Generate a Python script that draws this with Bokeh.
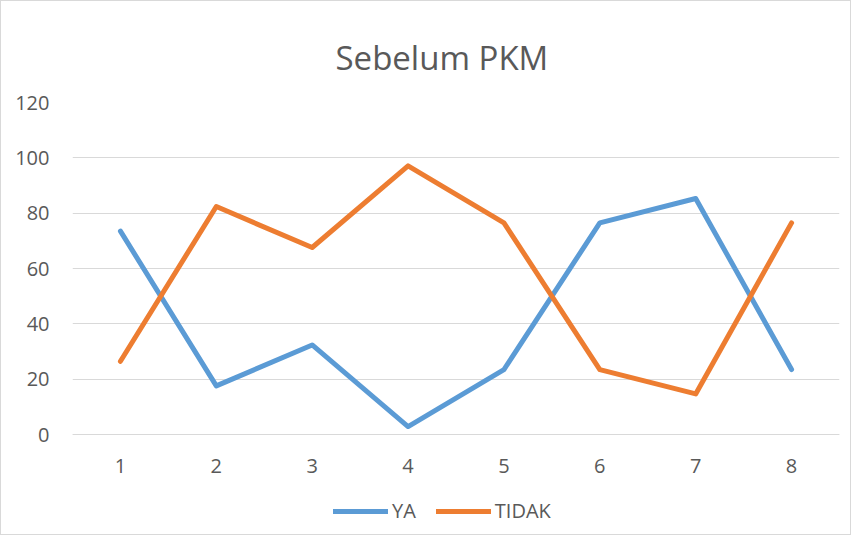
from bokeh.plotting import figure
from bokeh.models import Range1d, FixedTicker, Legend, LegendItem
from bokeh.embed import file_html
from bokeh.resources import INLINE

categories = [1, 2, 3, 4, 5, 6, 7, 8]
ya = [73.5, 17.6, 32.4, 2.9, 23.5, 76.5, 85.3, 23.5]
tidak = [26.5, 82.4, 67.6, 97.1, 76.5, 23.5, 14.7, 76.5]
y_ticks = [0, 20, 40, 60, 80, 100, 120]

FONT = "Open Sans"
TXT = "#595959"
GRID = "#d9d9d9"
Y_BOTTOM = -36.1  # extra room below 0 for the category labels and legend

p = figure(width=851, height=535, output_backend="svg", toolbar_location=None,
           x_range=Range1d(0.5, 8.5), y_range=Range1d(Y_BOTTOM, 120),
           min_border_left=71, min_border_right=13, min_border_top=101, min_border_bottom=2)
p.styles = {"border": "1px solid #d9d9d9"}

p.title.text = "Sebelum PKM"
p.title.align = "left"
p.title.offset = 263
p.title.standoff = 45
p.title.text_font = FONT
p.title.text_font_size = "33px"
p.title.text_font_style = "normal"
p.title.text_color = TXT

p.outline_line_color = None
p.background_fill_color = "white"
p.border_fill_color = "white"

p.xgrid.grid_line_color = None
p.ygrid.grid_line_color = GRID
p.ygrid.grid_line_width = 1
p.ygrid.ticker = FixedTicker(ticks=y_ticks)

p.xaxis.ticker = FixedTicker(ticks=categories)
p.xaxis.fixed_location = 0
p.yaxis.ticker = FixedTicker(ticks=y_ticks)
for ax in (p.xaxis[0], p.yaxis[0]):
    ax.major_tick_line_color = None
    ax.minor_tick_line_color = None
    ax.major_tick_out = 0
    ax.minor_tick_out = 0
    ax.major_label_text_font = FONT
    ax.major_label_text_font_size = "20px"
    ax.major_label_text_color = TXT
p.xaxis.axis_line_color = GRID
p.yaxis.axis_line_color = None
p.xaxis.major_label_standoff = 24
p.yaxis.major_label_standoff = 23

r1 = p.line(categories, ya, line_color="#5B9BD5", line_width=5, line_join="round", line_cap="round")
r2 = p.line(categories, tidak, line_color="#ED7D31", line_width=5, line_join="round", line_cap="round")

legend = Legend(items=[LegendItem(label="YA", renderers=[r1]),
                       LegendItem(label="TIDAK", renderers=[r2])],
                orientation="horizontal", location=(261, 10),
                label_text_font=FONT, label_text_font_size="20px", label_text_color=TXT,
                glyph_width=55, glyph_height=12, label_standoff=4, spacing=20,
                border_line_color=None, background_fill_alpha=0, padding=0, margin=0)
p.add_layout(legend, "center")

open("out.html", "w").write(file_html(p, INLINE))
